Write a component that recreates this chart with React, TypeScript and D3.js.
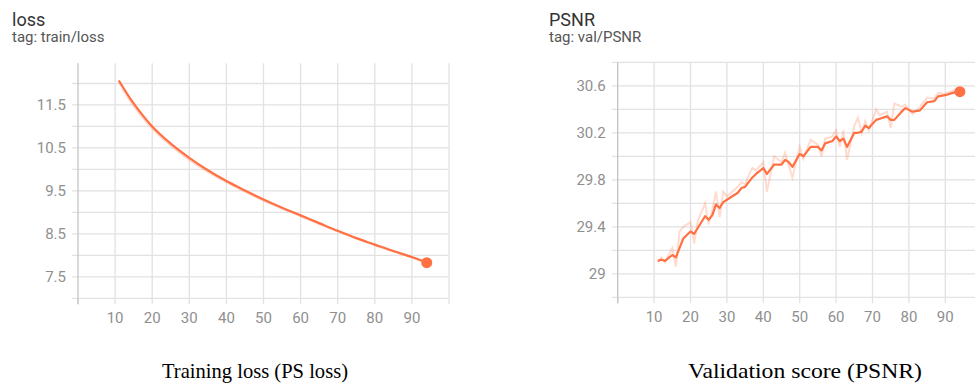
import React from 'react'
import * as d3 from 'd3'

// loss (train/loss), smoothed and raw, by epoch
const lossEpochs = [11, 12, 14, 16, 18, 20, 25, 30, 35, 40, 45, 50, 55, 60, 65, 70, 75, 80, 85, 90, 94]
const lossSmooth = [12.07, 11.93, 11.66, 11.42, 11.2, 11.0, 10.6, 10.27, 9.98, 9.73, 9.51, 9.3, 9.11, 8.93, 8.75, 8.57, 8.4, 8.25, 8.1, 7.96, 7.83]
const lossRaw = [12.05, 11.88, 11.6, 11.36, 11.14, 10.95, 10.55, 10.22, 9.94, 9.7, 9.48, 9.27, 9.09, 8.91, 8.73, 8.56, 8.39, 8.24, 8.09, 7.95, 7.82]
const lossYTicks = [7.5, 8.5, 9.5, 10.5, 11.5]
const lossYGrid = [7, 7.5, 8, 8.5, 9, 9.5, 10, 10.5, 11, 11.5, 12]

// PSNR (val/PSNR)
const psnrEpochs = [11, 12, 13, 15, 16, 17, 18, 20, 21, 22, 24, 25, 26, 27, 28, 29, 30, 33, 34, 35, 36, 37, 38, 40, 41, 43, 45, 46, 47, 48, 50, 51, 53, 55, 56, 57, 59, 60, 61, 62, 63, 65, 66, 67, 68, 69, 71, 72, 74, 75, 76, 78, 79, 81, 83, 85, 87, 88, 90, 92, 94]
const psnrSmooth = [29.11, 29.12, 29.11, 29.16, 29.14, 29.22, 29.3, 29.36, 29.34, 29.39, 29.49, 29.46, 29.5, 29.59, 29.56, 29.61, 29.63, 29.69, 29.73, 29.74, 29.78, 29.82, 29.85, 29.9, 29.85, 29.93, 29.93, 29.97, 29.95, 29.91, 30.02, 30.0, 30.08, 30.08, 30.05, 30.11, 30.13, 30.17, 30.13, 30.15, 30.08, 30.2, 30.2, 30.21, 30.26, 30.24, 30.31, 30.32, 30.34, 30.31, 30.31, 30.38, 30.41, 30.38, 30.39, 30.46, 30.47, 30.51, 30.52, 30.54, 30.55]
const psnrRaw = [29.1, 29.14, 29.1, 29.22, 29.06, 29.36, 29.4, 29.44, 29.26, 29.45, 29.6, 29.42, 29.55, 29.7, 29.48, 29.7, 29.66, 29.74, 29.78, 29.76, 29.84, 29.9, 29.88, 29.95, 29.7, 30.0, 29.95, 30.03, 29.92, 29.82, 30.08, 29.98, 30.14, 30.1, 30.0, 30.15, 30.17, 30.22, 30.08, 30.22, 29.97, 30.26, 30.33, 30.2, 30.3, 30.22, 30.4, 30.35, 30.38, 30.24, 30.45, 30.42, 30.44, 30.36, 30.42, 30.5, 30.49, 30.54, 30.53, 30.56, 30.56]
const psnrYTicks = [29, 29.4, 29.8, 30.2, 30.6]
const psnrYGrid = [28.8, 29, 29.2, 29.4, 29.6, 29.8, 30, 30.2, 30.4, 30.6, 30.8]

const xGrid = [10, 20, 30, 40, 50, 60, 70, 80, 90, 100]
const xTicks = [0, 10, 20, 30, 40, 50, 60, 70, 80, 90, 100]
const xLabels = [10, 20, 30, 40, 50, 60, 70, 80, 90]

const ORANGE = '#ff7043'
const GRID = '#e2e2e2'
const AXIS = '#c4c4c4'
const LABEL = '#8f8f8f'
const SANS = 'Roboto, "Noto Sans", sans-serif'

const fmt = (v: number) => String(+v.toFixed(1))

function Panel({title, tag, titleX, x0, x1, yDomain, yTop, yBottom, yGrid, yTicks, epochs, smooth, raw, curve}: any) {
  const x = d3.scaleLinear().domain([0, 100]).range([x0, x1])
  const y = d3.scaleLinear().domain(yDomain).range([yBottom, yTop])
  const line = d3.line<number>().x((d, i) => x(epochs[i])).y(d => y(d)).curve(curve)
  const last = smooth.length - 1

  return <g>
    <text x={titleX} y={26} fontFamily={SANS} fontSize={18} fill="#333">{title}</text>
    <text x={titleX} y={42} fontFamily={SANS} fontSize={15} fill="#555">{tag}</text>

    {yGrid.map(v => <line key={'h' + v} x1={x0 - 6} x2={x1} y1={y(v)} y2={y(v)} stroke={GRID} strokeWidth={1.3} />)}
    {xGrid.map(v => <line key={'v' + v} x1={x(v)} x2={x(v)} y1={yTop} y2={yBottom} stroke={GRID} strokeWidth={1.3} />)}
    {xTicks.map(v => <line key={'t' + v} x1={x(v)} x2={x(v)} y1={yBottom} y2={yBottom + 6} stroke={GRID} strokeWidth={1.3} />)}
    <line x1={x0} x2={x0} y1={yTop} y2={yBottom + 6} stroke={AXIS} strokeWidth={1.3} />

    {yTicks.map(v => <text key={'yl' + v} x={x0 - 12} y={y(v)} dy="0.35em" textAnchor="end"
      fontFamily={SANS} fontSize={15} fill={LABEL}>{fmt(v)}</text>)}
    {xLabels.map(v => <text key={'xl' + v} x={x(v)} y={yBottom + 25} textAnchor="middle"
      fontFamily={SANS} fontSize={15} fill={LABEL}>{v}</text>)}

    <path d={line(raw) || ''} fill="none" stroke={ORANGE} strokeOpacity={0.25} strokeWidth={2} />
    <path d={line(smooth) || ''} fill="none" stroke={ORANGE} strokeWidth={2.2} strokeLinejoin="round" />
    <circle cx={x(epochs[last])} cy={y(smooth[last])} r={5.5} fill={ORANGE} />
  </g>
}

export default function App() {
  const width = 975
  const height = 388
  return <svg width={width} height={height} style={{position: 'absolute', left: 0, top: 0, background: '#fff'}}>
    <rect width={width} height={height} fill="#fff" />
    <Panel title="loss" tag="tag: train/loss" titleX={12}
      x0={78} x1={449} yDomain={[7, 12.47]} yTop={63.3} yBottom={298.3}
      yGrid={lossYGrid} yTicks={lossYTicks}
      epochs={lossEpochs} smooth={lossSmooth} raw={lossRaw} curve={d3.curveMonotoneX} />
    <Panel title="PSNR" tag="tag: val/PSNR" titleX={549}
      x0={617.7} x1={981.7} yDomain={[28.8, 30.8]} yTop={62.3} yBottom={297.3}
      yGrid={psnrYGrid} yTicks={psnrYTicks}
      epochs={psnrEpochs} smooth={psnrSmooth} raw={psnrRaw} curve={d3.curveLinear} />
    <text x={255} y={378} textAnchor="middle" fontFamily='"Liberation Serif", "Times New Roman", serif'
      fontSize={21} textLength={186} lengthAdjust="spacingAndGlyphs" fill="#000">Training loss (PS loss)</text>
    <text x={805} y={378} textAnchor="middle" fontFamily='"Liberation Serif", "Times New Roman", serif'
      fontSize={21} textLength={234} lengthAdjust="spacingAndGlyphs" fill="#000">Validation score (PSNR)</text>
  </svg>
}
